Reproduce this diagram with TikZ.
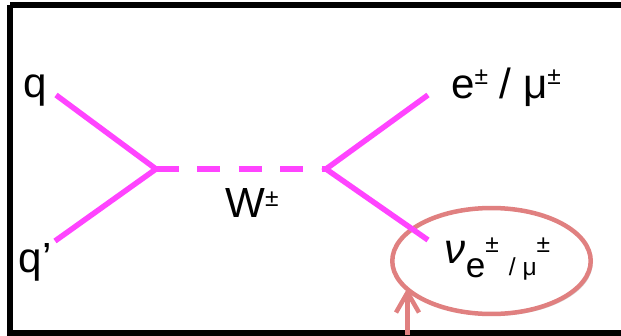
\documentclass[tikz,border=0pt]{standalone}
\usepackage{fontspec}
\setmainfont{Liberation Sans}
\usetikzlibrary{arrows.meta,positioning,shapes.geometric,shadows}
\definecolor{wline}{RGB}{255,68,255}
\definecolor{hlred}{RGB}{224,128,128}
\newcommand{\pmup}[1][0.22cm]{\raisebox{#1}{\fontsize{14}{14}\selectfont ±}}

\begin{document}
\begin{tikzpicture}[
    x=0.02cm, y=0.02cm,
    lbl/.style={inner sep=0pt, font=\fontsize{24}{28}\selectfont},
    fermion/.style={draw=wline, line width=0.11cm},
    boson/.style={draw=wline, line width=0.11cm, dash pattern=on 0.46cm off 0.37cm},
    circled/.style={ellipse, draw=hlred, line width=0.09cm, fill=white, minimum width=3.97cm, minimum height=2.12cm,
                    drop shadow={shadow xshift=0.04cm, shadow yshift=-0.04cm, opacity=0.3}},
    hlarrow/.style={draw=hlred, line width=0.09cm, -{Straight Barb[length=0.4cm,width=0.46cm]}}
]
\useasboundingbox (0,0) rectangle (621,335);
\clip (0,0) rectangle (621,335);

% frame (open on the right)
\coordinate (ftl) at (10,330);
\coordinate (fbl) at (10,2.5);
\draw[line width=0.12cm] (ftl) -- (640,330);
\draw[line width=0.12cm] (ftl) -- (fbl) -- (640,2.5);

% vertices and ends
\coordinate (v1) at (156,166);
\coordinate (v2) at (326,166);
\coordinate (qend) at (56,240);
\coordinate (qpend) at (55,94);
\coordinate (lend) at (428,240);
\coordinate (nend) at (428,95);

% highlight
\node[circled] (ring) at (491.5,74) {};
\coordinate (arrbase) at (407.5,0);
\coordinate (arrtip) at (407.5,47);
\draw[hlarrow] (arrbase) -- (arrtip);

% lines
\draw[fermion] (qend) -- (v1) -- (qpend);
\draw[fermion] (lend) -- (v2) -- (nend);
\draw[boson] (v1) -- (v2);

% labels
\node[lbl] (q) at (35.5,244) {q};
\node[lbl] (qp) at (35,73) {q’};
\node[lbl] (w) at (252,132.5) {W\pmup};
\node[lbl] (lep) at (506,247.5) {e\pmup[0.28cm] / μ\pmup[0.28cm]};
\node[lbl] (nu) at (497.5,75.5) {{\itshape ν}\raisebox{-0.28cm}{\fontsize{20}{20}\selectfont e}\pmup\hspace{0.2cm}\raisebox{-0.24cm}{\fontsize{14}{14}\selectfont / μ}\pmup};
\end{tikzpicture}
\end{document}
